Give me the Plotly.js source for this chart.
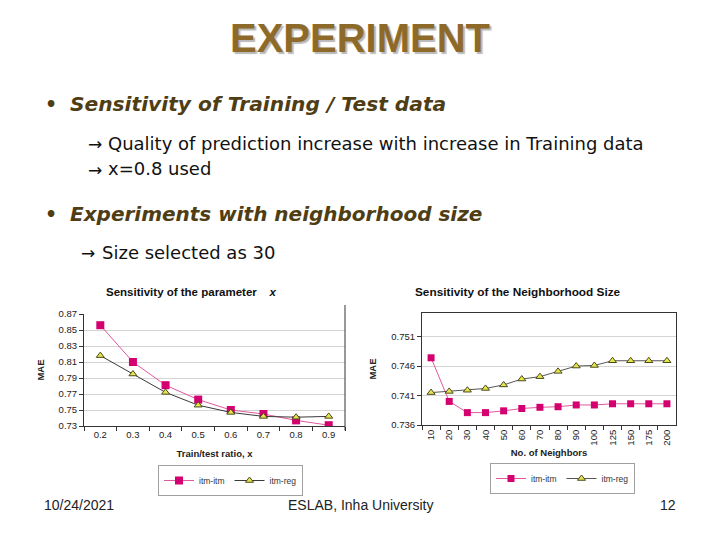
<!DOCTYPE html>
<html>
<head>
<meta charset="utf-8">
<script src="https://cdn.plot.ly/plotly-3.0.1.min.js"></script>
<style>
  html, body { margin: 0; padding: 0; background: #ffffff; }
  #slide { width: 720px; height: 540px; }
</style>
</head>
<body>
<div id="slide"></div>
<script>
// Sensitivity of the train/test split ratio x
const ratioLabels = ["0.2", "0.3", "0.4", "0.5", "0.6", "0.7", "0.8", "0.9"];
const ratioItmItm = [0.856, 0.810, 0.781, 0.763, 0.750, 0.745, 0.737, 0.731];
const ratioItmReg = [0.818, 0.795, 0.772, 0.756, 0.747, 0.742, 0.741, 0.742];

// Sensitivity of the neighborhood size
const neighborLabels = ["10", "20", "30", "40", "50", "60", "70", "80", "90", "100", "125", "150", "175", "200"];
const neighborItmItm = [0.7474, 0.7400, 0.7381, 0.7381, 0.7384, 0.7388, 0.7390, 0.7391, 0.7394, 0.7394, 0.7396, 0.7396, 0.7396, 0.7396];
const neighborItmReg = [0.7415, 0.7417, 0.7419, 0.7422, 0.7428, 0.7438, 0.7442, 0.7451, 0.7460, 0.7461, 0.7469, 0.7469, 0.7469, 0.7469];

const yTicksRatio = [0.73, 0.75, 0.77, 0.79, 0.81, 0.83, 0.85, 0.87];
const yTicksNeighbor = [0.736, 0.741, 0.746, 0.751];

const W = 720, H = 540;
const px = v => v / W;
const py = v => 1 - v / H;

const pink = "#d4006f";
const pinkLine = "#e0589e";
const darkLine = "#3a3a3a";
const triFill = "#e6e64a";
const triEdge = "#4a4a20";
const sans = "Liberation Sans, Arial, sans-serif";
const axisFont = { family: sans, size: 9.5, color: "#222" };

const traces = [
  {
    x: ratioLabels, y: ratioItmItm, name: "itm-itm", type: "scatter", mode: "lines+markers",
    xaxis: "x", yaxis: "y", legend: "legend",
    line: { color: pinkLine, width: 1 },
    marker: { symbol: "square", size: 8, color: pink }
  },
  {
    x: ratioLabels, y: ratioItmReg, name: "itm-reg", type: "scatter", mode: "lines+markers",
    xaxis: "x", yaxis: "y", legend: "legend",
    line: { color: darkLine, width: 1 },
    marker: { symbol: "triangle-up", size: 7, color: triFill, line: { color: triEdge, width: 1 } }
  },
  {
    x: neighborLabels, y: neighborItmItm, name: "itm-itm", type: "scatter", mode: "lines+markers",
    xaxis: "x2", yaxis: "y2", legend: "legend2",
    line: { color: pinkLine, width: 1 },
    marker: { symbol: "square", size: 7, color: pink }
  },
  {
    x: neighborLabels, y: neighborItmReg, name: "itm-reg", type: "scatter", mode: "lines+markers",
    xaxis: "x2", yaxis: "y2", legend: "legend2",
    line: { color: "#555", width: 1 },
    marker: { symbol: "triangle-up", size: 7, color: triFill, line: { color: triEdge, width: 1 } }
  }
];

const slideText = "DejaVu Sans, Verdana, sans-serif";
const headColor = "#4f3d14";

// slide text placed in pixel coordinates of the 720x540 page
function label(text, x, y, xanchor, font) {
  return { text, x: px(x), y: py(y), xref: "paper", yref: "paper",
           xanchor, yanchor: "middle", showarrow: false, font };
}

const annotations = [
  label("<b>EXPERIMENT</b>", 360, 38, "center",
    { family: sans, size: 40, color: "#8d6a2a", shadow: "2px 2px 1px #b9b9b9" }),

  label("<b>•</b>", 43, 104, "left", { family: slideText, size: 19, color: headColor }),
  label("<b><i>Sensitivity of Training / Test data</i></b>", 68, 104, "left",
    { family: slideText, size: 20.2, color: headColor }),
  label("→", 86, 144, "left", { family: slideText, size: 17, color: "#111" }),
  label("Quality of prediction increase with increase in Training data", 106, 143, "left",
    { family: slideText, size: 18, color: "#111" }),
  label("→", 86, 170, "left", { family: slideText, size: 17, color: "#111" }),
  label("x=0.8 used", 106, 169, "left", { family: slideText, size: 18, color: "#111" }),

  label("<b>•</b>", 43, 214, "left", { family: slideText, size: 19, color: headColor }),
  label("<b><i>Experiments with neighborhood size</i></b>", 68, 214, "left",
    { family: slideText, size: 20, color: headColor }),
  label("→", 79, 253, "left", { family: slideText, size: 17, color: "#111" }),
  label("Size selected as 30", 100, 252, "left", { family: slideText, size: 18, color: "#111" }),

  // chart headings
  label("<b>Sensitivity of the parameter    <i>x</i></b>", 104, 292, "left",
    { family: sans, size: 11.5, color: "#111" }),
  label("<b>Sensitivity of the Neighborhood Size</b>", 413, 292, "left",
    { family: sans, size: 11.8, color: "#111" }),

  // footer
  label("10/24/2021", 42, 505, "left", { family: sans, size: 14, color: "#222" }),
  label("ESLAB, Inha University", 361, 505, "center", { family: sans, size: 14, color: "#222" }),
  label("12", 678, 505, "right", { family: sans, size: 14, color: "#222" })
];

const layout = {
  width: W, height: H,
  margin: { l: 0, r: 0, t: 0, b: 0 },
  paper_bgcolor: "#ffffff",
  plot_bgcolor: "#ffffff",
  showlegend: true,
  xaxis: {
    domain: [px(84), px(345)], anchor: "y", type: "category",
    range: [-0.5, ratioLabels.length - 0.5],
    tickson: "boundaries", ticks: "outside", ticklen: 4, tickcolor: "#333",
    showgrid: false, showline: true, linecolor: "#333", linewidth: 1,
    tickfont: axisFont, fixedrange: true,
    title: { text: "<b>Train/test ratio, x</b>", font: { family: sans, size: 9.5, color: "#222" }, standoff: 10 }
  },
  yaxis: {
    domain: [py(426), py(314)], anchor: "x",
    range: [0.73, 0.87], tickvals: yTicksRatio, tickformat: ".2f",
    ticks: "outside", ticklen: 4, tickcolor: "#333",
    showgrid: true, gridcolor: "#d4d4d4", gridwidth: 1, zeroline: false,
    showline: true, linecolor: "#333", linewidth: 1,
    tickfont: axisFont, fixedrange: true,
    title: { text: "<b>MAE</b>", font: { family: sans, size: 9.5, color: "#222" }, standoff: 12 }
  },
  xaxis2: {
    domain: [px(422), px(676)], anchor: "y2", type: "category",
    range: [-0.5, neighborLabels.length - 0.5],
    tickson: "boundaries", ticks: "outside", ticklen: 4, tickcolor: "#333",
    tickangle: -90,
    showgrid: false, showline: true, linecolor: "#333", linewidth: 1, mirror: true,
    tickfont: axisFont, fixedrange: true,
    title: { text: "<b>No. of Neighbors</b>", font: { family: sans, size: 9.5, color: "#222" }, standoff: 4 }
  },
  yaxis2: {
    domain: [py(425), py(313)], anchor: "x2",
    range: [0.736, 0.755], tickvals: yTicksNeighbor, tickformat: ".3f",
    ticks: "outside", ticklen: 4, tickcolor: "#333",
    showgrid: true, gridcolor: "#d4d4d4", gridwidth: 1, zeroline: false,
    showline: true, linecolor: "#333", linewidth: 1, mirror: true,
    tickfont: axisFont, fixedrange: true,
    title: { text: "<b>MAE</b>", font: { family: sans, size: 9.5, color: "#222" }, standoff: 12 }
  },
  legend: {
    orientation: "h", x: px(158), y: py(465), xanchor: "left", yanchor: "top",
    bordercolor: "#a0a0a0", borderwidth: 1, bgcolor: "#ffffff",
    font: { family: sans, size: 8.5, color: "#333" },
    itemwidth: 30, tracegroupgap: 0
  },
  legend2: {
    orientation: "h", x: px(490), y: py(463), xanchor: "left", yanchor: "top",
    bordercolor: "#a0a0a0", borderwidth: 1, bgcolor: "#ffffff",
    font: { family: sans, size: 8.5, color: "#333" },
    itemwidth: 30, tracegroupgap: 0
  },
  shapes: [
    { type: "line", xref: "x domain", yref: "y domain", x0: 1, x1: 1, y0: -0.04, y1: 1.08,
      line: { color: "#333", width: 1 } }
  ],
  annotations: annotations
};

Plotly.newPlot("slide", traces, layout, { staticPlot: true, displayModeBar: false });
</script>
</body>
</html>
